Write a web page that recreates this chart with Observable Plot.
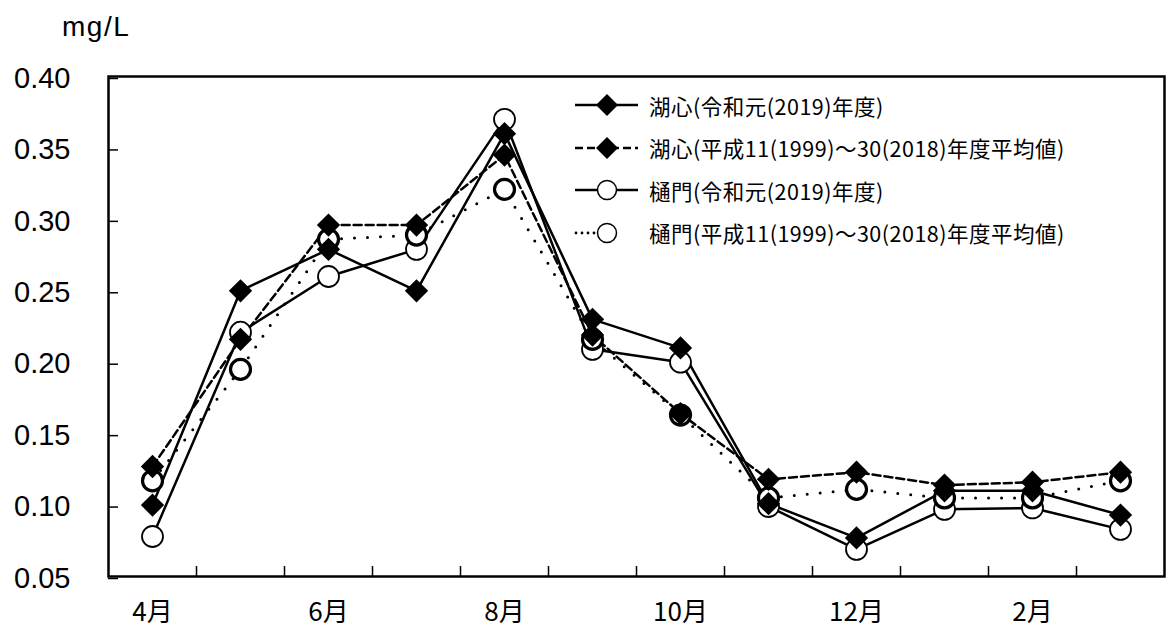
<!DOCTYPE html>
<html>
<head>
<meta charset="utf-8">
<script src="https://cdn.jsdelivr.net/npm/d3@7"></script>
<script src="https://cdn.jsdelivr.net/npm/@observablehq/plot@0.6"></script>
<style>
  html, body { margin: 0; padding: 0; background: #fff; }
  #wrap { position: relative; width: 1166px; height: 630px; overflow: hidden; }
  #unit { position: absolute; left: 62px; top: 10px; font-family: "Liberation Sans", Arial, sans-serif; font-size: 28px; letter-spacing: 1.5px; color: #000; line-height: 1.2; }
  #legend { position: absolute; left: 572px; top: 84px; font-family: "Noto Sans CJK JP", sans-serif; font-size: 21.5px; letter-spacing: 0.5px; color: #000; }
  .row { display: flex; align-items: center; height: 42.6px; line-height: 1; }
  .row svg { flex: none; }
  .row span { margin-left: 9px; white-space: nowrap; }
</style>
</head>
<body>
<div id="wrap">
  <div id="chart"></div>
  <div id="unit">mg/L</div>
  <div id="legend"></div>
</div>
<script>
// Months (fiscal year April – March)
const months = ["4月","5月","6月","7月","8月","9月","10月","11月","12月","1月","2月","3月"];
const labelMonths = ["4月","6月","8月","10月","12月","2月"];
const yTicks = [0.05, 0.10, 0.15, 0.20, 0.25, 0.30, 0.35, 0.40];

const seriesNames = [
  "湖心(令和元(2019)年度)",
  "湖心(平成11(1999)～30(2018)年度平均値)",
  "樋門(令和元(2019)年度)",
  "樋門(平成11(1999)～30(2018)年度平均値)"
];

const koshin2019 = [0.100, 0.250, 0.279, 0.250, 0.360, 0.230, 0.210, 0.101, 0.077, 0.110, 0.110, 0.093];
const koshinAvg  = [0.127, 0.216, 0.296, 0.296, 0.345, 0.219, 0.164, 0.118, 0.123, 0.114, 0.116, 0.123];
const himon2019  = [0.078, 0.221, 0.260, 0.279, 0.370, 0.209, 0.200, 0.099, 0.069, 0.097, 0.098, 0.083];
const himonAvg   = [0.117, 0.195, 0.286, 0.289, 0.321, 0.216, 0.163, 0.105, 0.111, 0.105, 0.105, 0.117];

const toRows = (vals, name) => vals.map((v, i) => ({series: name, month: months[i], i, v}));
const dK19 = toRows(koshin2019, seriesNames[0]);
const dKav = toRows(koshinAvg, seriesNames[1]);
const dH19 = toRows(himon2019, seriesNames[2]);
const dHav = toRows(himonAvg, seriesNames[3]);

const labelIdx = labelMonths.map(m => months.indexOf(m));
const boundaries = months.slice(0, -1).map((m, i) => i + 0.5);

const chart = Plot.plot({
  width: 1166,
  height: 630,
  marginLeft: 108,
  marginRight: 2,
  marginTop: 76,
  marginBottom: 54,
  style: {fontFamily: "'Liberation Sans', Arial, sans-serif", background: "#fff", color: "#000"},
  x: {type: "linear", domain: [-0.5, months.length - 0.5]},
  y: {domain: [0.05, 0.40]},
  marks: [
    Plot.axisY({ticks: yTicks, tickSize: -10, tickPadding: 48, strokeWidth: 1.5,
      tickFormat: d => d.toFixed(2), fontSize: 29, dy: 2, label: null}),
    Plot.axisX({ticks: boundaries, tickSize: -10, tickFormat: () => "", strokeWidth: 1.5, label: null}),
    Plot.axisX({ticks: labelIdx, tickSize: 0, tickPadding: 26, tickFormat: i => months[i],
      fontSize: 26, fontFamily: "'Noto Sans CJK JP', sans-serif", label: null}),
    Plot.line(dHav, {x: "i", y: "v", stroke: "#000", strokeWidth: 3, strokeDasharray: "0,13", strokeLinecap: "round"}),
    Plot.line(dKav, {x: "i", y: "v", stroke: "#000", strokeWidth: 2.5, strokeDasharray: "8,4"}),
    Plot.line(dH19, {x: "i", y: "v", stroke: "#000", strokeWidth: 2.5}),
    Plot.line(dK19, {x: "i", y: "v", stroke: "#000", strokeWidth: 2.5}),
    Plot.dot(dH19, {x: "i", y: "v", r: 10.5, fill: "#fff", stroke: "#000", strokeWidth: 1.8}),
    Plot.dot(dHav, {x: "i", y: "v", r: 10, fill: "#fff", stroke: "#000", strokeWidth: 3.2}),
    Plot.dot(dKav, {x: "i", y: "v", r: 10.5, symbol: "diamond2", fill: "#000", stroke: "none"}),
    Plot.dot(dK19, {x: "i", y: "v", r: 10.5, symbol: "diamond2", fill: "#000", stroke: "none"}),
    Plot.frame({stroke: "#000", strokeWidth: 2.5})
  ]
});
document.getElementById("chart").appendChild(chart);

// Legend
const legendSpecs = [
  {dash: null, marker: "diamond", full: true},
  {dash: "8,4", marker: "diamond", full: true},
  {dash: null, marker: "circle", full: true},
  {dash: "0,6", marker: "circle", full: false, dot: true}
];
const legend = document.getElementById("legend");
legendSpecs.forEach((s, k) => {
  const row = document.createElement("div");
  row.className = "row";
  const ns = "http://www.w3.org/2000/svg";
  const svg = document.createElementNS(ns, "svg");
  svg.setAttribute("width", 68); svg.setAttribute("height", 26);
  const line = document.createElementNS(ns, "line");
  line.setAttribute("x1", s.dot ? 4 : 3);
  line.setAttribute("x2", s.full ? 66 : 26);
  line.setAttribute("y1", 13); line.setAttribute("y2", 13);
  line.setAttribute("stroke", "#000");
  line.setAttribute("stroke-width", s.dot ? 2.8 : 2.5);
  if (s.dash) line.setAttribute("stroke-dasharray", s.dash);
  if (s.dot) line.setAttribute("stroke-linecap", "round");
  svg.appendChild(line);
  if (s.marker === "diamond") {
    const p = document.createElementNS(ns, "path");
    p.setAttribute("d", "M35,2L46,13L35,24L24,13Z");
    p.setAttribute("fill", "#000");
    svg.appendChild(p);
  } else {
    const c = document.createElementNS(ns, "circle");
    c.setAttribute("cx", 35); c.setAttribute("cy", 13); c.setAttribute("r", 9.5);
    c.setAttribute("fill", "#fff"); c.setAttribute("stroke", "#000"); c.setAttribute("stroke-width", 1.5);
    svg.appendChild(c);
  }
  row.appendChild(svg);
  const span = document.createElement("span");
  span.textContent = seriesNames[k];
  row.appendChild(span);
  legend.appendChild(row);
});
</script>
</body>
</html>
